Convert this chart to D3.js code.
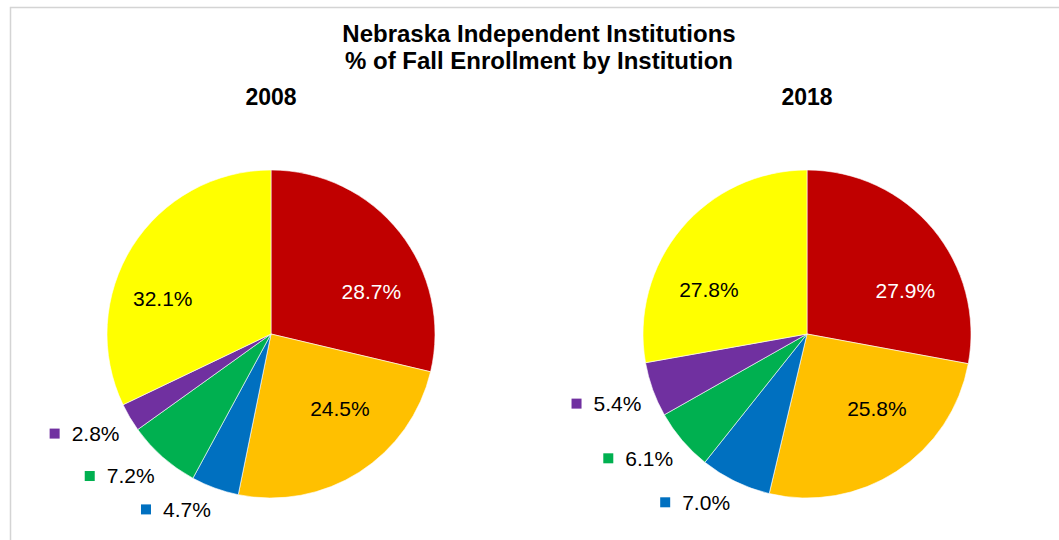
<!DOCTYPE html>
<html>
<head>
<meta charset="utf-8">
<script src="https://cdn.jsdelivr.net/npm/d3@7"></script>
<style>
  body { margin: 0; background: #fff; }
  svg { font-family: "Liberation Sans", Arial, sans-serif; }
</style>
</head>
<body>
<svg width="1059" height="540"></svg>
<script>
var years = ["2008", "2018"];
var institutions = ["Inst A", "Inst B", "Inst C", "Inst D", "Inst E", "Inst F"];
var share2008 = [28.7, 24.5, 4.7, 7.2, 2.8, 32.1];
var share2018 = [27.9, 25.8, 7.0, 6.1, 5.4, 27.8];
var colors = ["#c00000", "#ffc000", "#0070c0", "#00b050", "#7030a0", "#ffff00"];
var labelColors = ["#fff", "#000", "#000", "#000", "#000", "#000"];
var titleLines = ["Nebraska Independent Institutions", "% of Fall Enrollment by Institution"];

var svg = d3.select("svg");
var width = +svg.attr("width");

// chart frame
svg.append("rect")
    .attr("x", 10.5).attr("y", 7.5)
    .attr("width", width + 20).attr("height", 600)
    .style("fill", "none").style("stroke", "#d4d4d4").style("stroke-width", 1.5);

svg.selectAll(".title")
    .data(titleLines)
    .enter().append("text")
    .attr("class", "title")
    .attr("x", 539)
    .attr("y", function(d, i) { return 42 + i * 27; })
    .style("text-anchor", "middle")
    .style("font-weight", "bold")
    .style("font-size", "24px")
    .text(function(d) { return d; });

var radius = 164;
var centers = [271, 807];
var cy = 334;

var pie = d3.pie().sort(null).value(function(d) { return d; });
var arc = d3.arc().innerRadius(0).outerRadius(radius);

function drawPie(values, year, cx) {
    var g = svg.append("g").attr("transform", "translate(" + cx + "," + cy + ")");

    g.append("text")
        .attr("x", 0)
        .attr("y", 105 - cy)
        .style("text-anchor", "middle")
        .style("font-weight", "bold")
        .style("font-size", "23px")
        .text(year);

    var arcs = pie(values);

    g.selectAll(".slice")
        .data(arcs)
        .enter().append("path")
        .attr("class", "slice")
        .attr("d", arc)
        .style("fill", function(d, i) { return colors[i]; })
        .style("stroke", "#fff")
        .style("stroke-width", 0.6);

    arcs.forEach(function(d, i) {
        var mid = (d.startAngle + d.endAngle) / 2;
        var dx = Math.sin(mid), dy = -Math.cos(mid);
        var txt = d.value.toFixed(1) + "%";
        if (d.value > 10) {
            g.append("text")
                .attr("x", dx * 128)
                .attr("y", dy * 80)
                .attr("dy", "0.7em")
                .style("text-anchor", "middle")
                .style("font-size", "21px")
                .style("fill", labelColors[i])
                .text(txt);
        } else {
            // outside label with a legend key; nearest corner of the box sits on the outer ring
            var lg = g.append("g");
            lg.append("rect")
                .attr("x", 0).attr("y", -5)
                .attr("width", 10).attr("height", 10)
                .style("fill", colors[i]);
            lg.append("text")
                .attr("x", 22)
                .attr("y", 0)
                .attr("dy", "0.35em")
                .style("font-size", "21px")
                .style("fill", "#000")
                .text(txt);
            var hw = lg.node().getBBox().width / 2, hh = 10;
            var lx = dx * 176 + Math.sign(dx) * hw - hw;
            var ly = dy * 176 + Math.sign(dy) * hh;
            lg.attr("transform", "translate(" + lx + "," + ly + ")");
        }
    });
}

drawPie(share2008, years[0], centers[0]);
drawPie(share2018, years[1], centers[1]);
</script>
</body>
</html>
